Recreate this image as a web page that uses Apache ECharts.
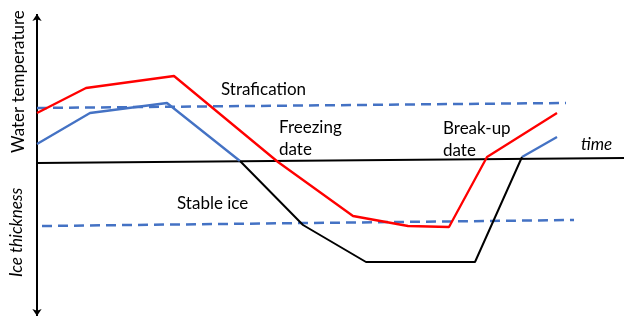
<!DOCTYPE html>
<html>
<head>
<meta charset="utf-8">
<script src="https://cdn.jsdelivr.net/npm/echarts@6/dist/echarts.min.js"></script>
<style>
  html, body { margin: 0; padding: 0; background: #fff; }
  #chart { width: 624px; height: 319px; }
</style>
</head>
<body>
<div id="chart"></div>
<script>
// schematic values, x = time, y = level (drawn top-down)
var redLine = [[37, 113], [86, 88], [174, 76], [278, 162], [353, 216], [408, 226], [449, 227], [487, 157], [557, 113]]
var blueBefore = [[37, 144], [90, 113], [167, 103], [240, 161]]
var blueAfter = [[522, 157], [557, 137]]
var iceLine = [[240, 161], [303, 225], [366, 262], [475, 262], [522, 157]]
var upperDash = [[37, 108], [566, 103]]
var lowerDash = [[42, 226], [574, 220]]
var timeAxis = [[37, 163], [624, 158]]
var valueAxis = [[37, 316], [37, 14]]

var font = 'Lato, "Open Sans", sans-serif'

function plain (data, color, width, type) {
  return {
    type: 'line',
    data: data,
    symbol: 'none',
    silent: true,
    lineStyle: { color: color, width: width, type: type || 'solid' },
    z: 3
  }
}

function note (text, x, y, opts) {
  return Object.assign({
    type: 'text',
    x: x,
    y: y,
    style: { text: text, font: '17px ' + font, fill: '#000', lineHeight: 22 }
  }, opts || {})
}

var chart = echarts.init(document.getElementById('chart'))
chart.setOption({
  animation: false,
  grid: { left: 0, right: 0, top: 0, bottom: 0 },
  xAxis: { type: 'value', min: 0, max: 624, show: false },
  yAxis: { type: 'value', min: 0, max: 319, inverse: true, show: false },
  series: [
    plain(timeAxis, '#000', 2),
    plain(upperDash, '#4472c4', 2.5, [10, 6]),
    plain(lowerDash, '#4472c4', 2.5, [10, 6]),
    plain(blueBefore, '#4472c4', 2.3),
    plain(blueAfter, '#4472c4', 2.3),
    plain(iceLine, '#000', 2),
    plain(redLine, '#ff0000', 2.3),
    {
      type: 'lines',
      coordinateSystem: 'cartesian2d',
      silent: true,
      symbol: ['arrow', 'arrow'],
      symbolSize: 7,
      lineStyle: { color: '#000', width: 2, opacity: 1 },
      data: [{ coords: valueAxis }]
    }
  ],
  graphic: [
    note('Water temperature', 8, 153, { rotation: Math.PI / 2 }),
    note('Ice thickness', 8, 277, { rotation: Math.PI / 2, style: { text: 'Ice thickness', font: 'italic 17px ' + font, fill: '#000' } }),
    note('Strafication', 221, 79),
    note('Freezing\ndate', 279, 117),
    note('Break-up\ndate', 443, 118),
    note('time', 581, 136, { style: { text: 'time', font: 'italic 17px ' + font, fill: '#000' } }),
    note('Stable ice', 177, 193)
  ]
})
</script>
</body>
</html>
